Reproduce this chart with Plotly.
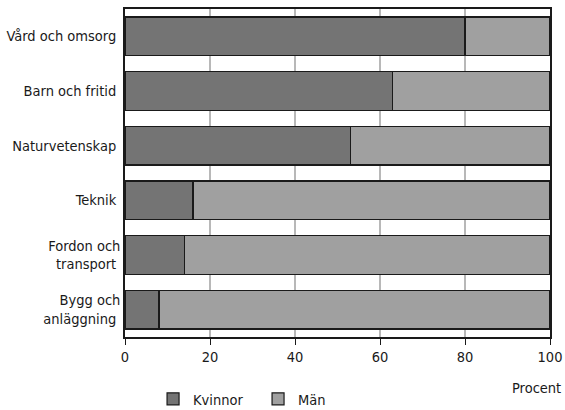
import plotly.graph_objects as go

categories = ["Vård och omsorg", "Barn och fritid", "Naturvetenskap", "Teknik",
              "Fordon och<br>transport", "Bygg och<br>anläggning"]
kvinnor = [80, 63, 53, 16, 14, 8]
man = [20, 37, 47, 84, 86, 92]
x_ticks = [0, 20, 40, 60, 80, 100]

FONT = "DejaVu Sans Condensed"

fig = go.Figure()
fig.add_trace(go.Bar(y=categories, x=kvinnor, name="Kvinnor", orientation="h",
                     marker=dict(color="#747474", line=dict(color="#1a1a1a", width=1.2))))
fig.add_trace(go.Bar(y=categories, x=man, name="Män", orientation="h",
                     marker=dict(color="#a0a0a0", line=dict(color="#1a1a1a", width=1.2))))

fig.update_layout(
    barmode="stack",
    bargap=0.29,
    width=565, height=410,
    margin=dict(l=125, r=15, t=9, b=73, autoexpand=False),
    plot_bgcolor="white", paper_bgcolor="white",
    font=dict(family=FONT, size=14.5, color="#1a1a1a"),
    showlegend=True,
    legend=dict(orientation="h", x=0.066, xanchor="left",
                yref="container", y=0.027, yanchor="middle",
                font=dict(size=14.5), itemwidth=30, traceorder="normal",
                entrywidth=60, entrywidthmode="pixels"),
    xaxis=dict(range=[0, 100], tickvals=x_ticks, showgrid=True, gridcolor="#b8b8b8",
               gridwidth=1.5, showline=True, linecolor="#1a1a1a", linewidth=1.5,
               mirror=True, ticks="outside", ticklen=6, tickcolor="#1a1a1a",
               zeroline=False, fixedrange=True, automargin=False),
    yaxis=dict(autorange="reversed", showline=True, linecolor="#1a1a1a", linewidth=1.5,
               mirror=True, ticks="", showgrid=False, ticksuffix=" ", automargin=False),
)
fig.add_annotation(text="Procent", xref="paper", yref="paper", x=1.0306, y=-0.155,
                   xanchor="right", yanchor="middle", showarrow=False,
                   font=dict(size=14.5, family=FONT))
fig.write_html("out.html", config={"displayModeBar": False},
               post_script="document.body.style.margin='0';document.body.style.overflow='hidden';")
